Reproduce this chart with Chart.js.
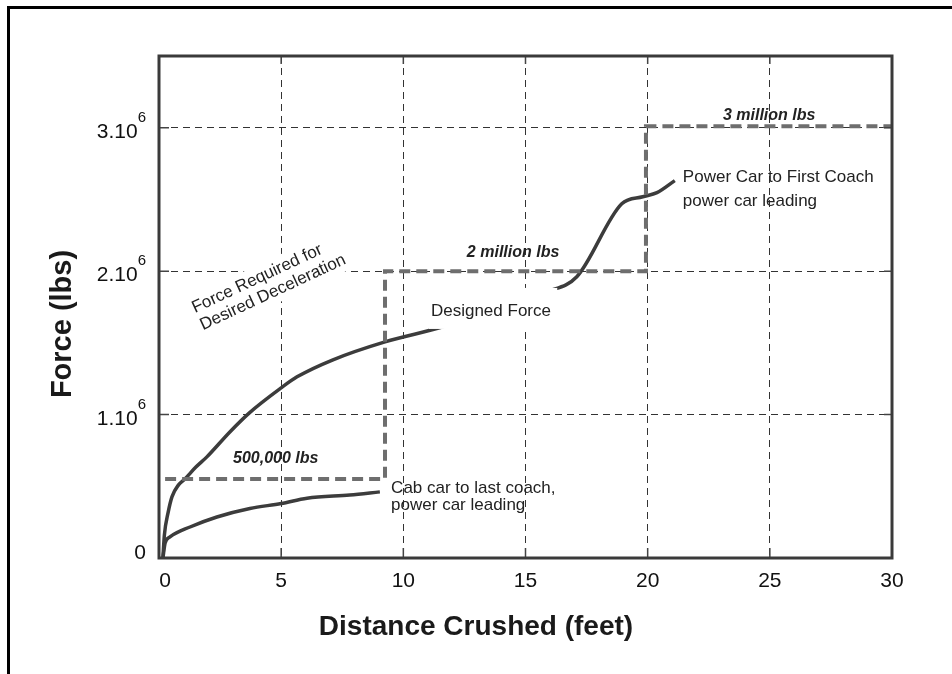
<!DOCTYPE html>
<html>
<head>
<meta charset="utf-8">
<script src="https://cdn.jsdelivr.net/npm/chart.js@4.4.1/dist/chart.umd.min.js"></script>
<style>
    body { margin: 0; background: #fff; overflow: hidden; }
    #lienzo { position: absolute; left: 0; top: 0; }
    #marco { position: absolute; left: 7px; top: 6px; width: 1000px; height: 700px;
             border-left: 3px solid #000; border-top: 3px solid #000; pointer-events: none; }
</style>
</head>
<body>
<canvas id="lienzo" width="952" height="674"></canvas>
<div id="marco"></div>
<script>
// Power car to first coach (feet, lbs)
const distPower = [0.16, 0.22, 0.37, 0.53, 0.8, 1.06, 1.5, 1.96, 2.9, 3.7, 5.0, 5.65, 7.12, 9.25, 11.62, 15.88, 17.1, 18.94, 19.8, 20.38, 21.11];
const fuerzaPower = [0, 160000, 314000, 426000, 510000, 551000, 632000, 705000, 879000, 1012000, 1186000, 1263000, 1382000, 1507000, 1612000, 1856000, 1961000, 2470000, 2519000, 2547000, 2631000];

// Cab car to last coach
const distCab = [0.16, 0.25, 0.45, 1.27, 2.37, 3.72, 5.0, 6.06, 7.81, 9.04];
const fuerzaCab = [0, 105000, 147000, 216000, 286000, 345000, 380000, 417000, 440000, 461000];

// Designed force (step)
const distDisenio = [0.25, 9.25, 9.25, 19.93, 19.93, 30];
const fuerzaDisenio = [551000, 551000, 2000000, 2000000, 3010000, 3010000];

const xTicks = [0, 5, 10, 15, 20, 25, 30];
const xTickTexto = ['0', '5', '10', '15', '20', '25', '30'];
const yTicks = [0, 1000000, 2000000, 3000000];
const yTickTexto = ['0', '1.10', '2.10', '3.10'];
const yTickExp = ['', '6', '6', '6'];

const zip = (xs, ys) => xs.map((x, i) => ({ x: x, y: ys[i] }));

const FUENTE = '"Liberation Sans", Arial, sans-serif';

// textos sobre el grafico (x en pies, y en lbs)
const anotaciones = [
    { lineas: ['Designed Force'], x: 11.13, y: 1688000, font: '17px ' + FUENTE, alto: 20, fondo: [11.05, 16.3, 1597000, 1883000] },
    { lineas: ['Power Car to First Coach', 'power car leading'], x: 21.44, y: 2622000, font: '17px ' + FUENTE, alto: 24 },
    { lineas: ['Cab car to last coach,', 'power car leading'], x: 9.5, y: 453000, font: '17px ' + FUENTE, alto: 17 },
    { lineas: ['500,000 lbs'], x: 3.03, y: 662000, font: 'italic bold 16px ' + FUENTE, alto: 18 },
    { lineas: ['2 million lbs'], x: 12.6, y: 2099000, font: 'italic bold 16px ' + FUENTE, alto: 18 },
    { lineas: ['3 million lbs'], x: 23.08, y: 3054000, font: 'italic bold 16px ' + FUENTE, alto: 18 },
    { lineas: ['Force Required for', 'Desired Deceleration'], x: 1.47, y: 1708000, font: '17px ' + FUENTE, alto: 19, angulo: -25, fondoRot: true }
];

const pluginDibujo = {
    id: 'dibujo',
    afterDatasetsDraw(chart) {
        const ctx = chart.ctx;
        const sx = chart.scales.x, sy = chart.scales.y;
        anotaciones.forEach(a => {
            const px = sx.getPixelForValue(a.x), py = sy.getPixelForValue(a.y);
            ctx.save();
            ctx.font = a.font;
            ctx.fillStyle = '#222';
            ctx.textAlign = 'left';
            ctx.textBaseline = 'alphabetic';
            if (a.fondo) {
                const x1 = sx.getPixelForValue(a.fondo[0]), x2 = sx.getPixelForValue(a.fondo[1]);
                const y1 = sy.getPixelForValue(a.fondo[3]), y2 = sy.getPixelForValue(a.fondo[2]);
                ctx.fillStyle = '#fff';
                ctx.fillRect(x1, y1, x2 - x1, y2 - y1);
                ctx.fillStyle = '#222';
            }
            ctx.translate(px, py);
            if (a.angulo) ctx.rotate(a.angulo * Math.PI / 180);
            if (a.fondoRot) {
                const w = Math.max(...a.lineas.map(l => ctx.measureText(l).width));
                ctx.fillStyle = '#fff';
                ctx.fillRect(-4, -17, w + 10, a.alto * (a.lineas.length - 1) + 24);
                ctx.fillStyle = '#222';
            }
            a.lineas.forEach((l, i) => ctx.fillText(l, 0, i * a.alto));
            ctx.restore();
        });
    },
    afterDraw(chart) {
        const ctx = chart.ctx;
        const { left, right, top, bottom } = chart.chartArea;
        const sx = chart.scales.x, sy = chart.scales.y;
        ctx.save();
        // marcas cortas hacia dentro
        ctx.strokeStyle = '#444';
        ctx.lineWidth = 1.5;
        ctx.beginPath();
        xTicks.forEach(v => {
            const p = sx.getPixelForValue(v);
            ctx.moveTo(p, bottom); ctx.lineTo(p, bottom - 10);
            ctx.moveTo(p, top); ctx.lineTo(p, top + 8);
        });
        yTicks.forEach(v => {
            const p = sy.getPixelForValue(v);
            ctx.moveTo(left, p); ctx.lineTo(left + 10, p);
            ctx.moveTo(right, p); ctx.lineTo(right - 8, p);
        });
        ctx.stroke();
        // caja
        ctx.strokeStyle = '#3a3a3a';
        ctx.lineWidth = 3;
        ctx.strokeRect(left, top, right - left, bottom - top);

        // etiquetas eje x
        ctx.fillStyle = '#111';
        ctx.font = '21px ' + FUENTE;
        ctx.textAlign = 'center';
        ctx.textBaseline = 'alphabetic';
        xTicks.forEach((v, i) => ctx.fillText(xTickTexto[i], sx.getPixelForValue(v) + (i === 0 ? 6 : 0), bottom + 29));

        // etiquetas eje y con exponente
        yTicks.forEach((v, i) => {
            const p = sy.getPixelForValue(v);
            if (yTickExp[i]) {
                ctx.font = '15px ' + FUENTE;
                const we = ctx.measureText(yTickExp[i]).width;
                ctx.textAlign = 'right';
                ctx.fillText(yTickExp[i], left - 13, p - 6);
                ctx.font = '21px ' + FUENTE;
                ctx.fillText(yTickTexto[i], left - 13 - we, p + 10);
            } else {
                ctx.font = '21px ' + FUENTE;
                ctx.textAlign = 'right';
                ctx.fillText(yTickTexto[i], left - 13, p + 1);
            }
        });

        // titulos
        ctx.fillStyle = '#1a1a1a';
        ctx.font = 'bold 28px ' + FUENTE;
        ctx.textAlign = 'center';
        ctx.fillText('Distance Crushed (feet)', 476, 635);
        ctx.translate(71, 324);
        ctx.rotate(-Math.PI / 2);
        ctx.font = 'bold 29px ' + FUENTE;
        ctx.fillText('Force (lbs)', 0, 0);
        ctx.restore();
    }
};

const ejeComun = {
    type: 'linear',
    ticks: { display: false },
    grid: { color: '#333', lineWidth: 1, drawTicks: false },
    border: { display: false, dash: [7, 5] }
};

new Chart(document.getElementById('lienzo'), {
    type: 'scatter',
    data: {
        datasets: [
            { label: 'Designed Force', data: zip(distDisenio, fuerzaDisenio), showLine: true, borderColor: '#6e6e6e', borderWidth: 4, borderDash: [11, 6], pointRadius: 0, tension: 0 },
            { label: 'Power Car to First Coach', data: zip(distPower, fuerzaPower), showLine: true, borderColor: '#3c3c3c', borderWidth: 3.5, pointRadius: 0, cubicInterpolationMode: 'monotone' },
            { label: 'Cab car to last coach', data: zip(distCab, fuerzaCab), showLine: true, borderColor: '#3c3c3c', borderWidth: 3.5, pointRadius: 0, cubicInterpolationMode: 'monotone' }
        ]
    },
    options: {
        responsive: false,
        animation: false,
        events: [],
        layout: { padding: { left: 159, top: 56, right: 60, bottom: 116 } },
        plugins: { legend: { display: false }, tooltip: { enabled: false } },
        scales: {
            x: Object.assign({}, ejeComun, {
                min: 0, max: 30,
                afterBuildTicks: ax => { ax.ticks = xTicks.map(v => ({ value: v })); }
            }),
            y: Object.assign({}, ejeComun, {
                min: 0, max: 3500000,
                afterBuildTicks: ax => { ax.ticks = yTicks.map(v => ({ value: v })); }
            })
        }
    },
    plugins: [pluginDibujo]
});
</script>
</body>
</html>
